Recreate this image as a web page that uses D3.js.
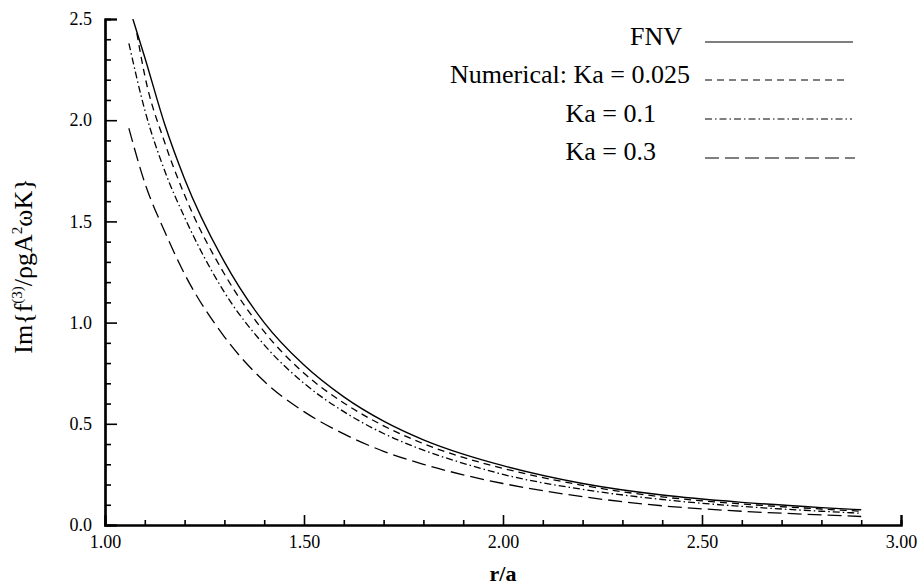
<!DOCTYPE html>
<html>
<head>
<meta charset="utf-8">
<script src="https://cdn.jsdelivr.net/npm/d3@7"></script>
<style>
  html, body { margin: 0; padding: 0; background: #fff; }
  svg text { font-family: "Liberation Serif", "Times New Roman", serif; fill: #000; }
</style>
</head>
<body>
<div id="chart"></div>
<script>
// --- data ---
const fnvR   = [1.07, 1.1, 1.15, 1.2, 1.3, 1.4, 1.5, 1.6, 1.7, 1.8, 1.9, 2.0, 2.2, 2.4, 2.6, 2.8, 2.9];
const fnvV   = [2.50, 2.31, 1.98, 1.71, 1.30, 1.00, 0.79, 0.633, 0.513, 0.421, 0.350, 0.293, 0.205, 0.148, 0.112, 0.086, 0.075];

const ka025R = [1.08, 1.1, 1.15, 1.2, 1.3, 1.4, 1.5, 1.6, 1.7, 1.8, 1.9, 2.0, 2.2, 2.4, 2.6, 2.8, 2.9];
const ka025V = [2.43, 2.22, 1.89, 1.63, 1.24, 0.955, 0.75, 0.603, 0.49, 0.402, 0.334, 0.28, 0.196, 0.139, 0.104, 0.079, 0.068];

const ka01R  = [1.06, 1.1, 1.15, 1.2, 1.3, 1.4, 1.5, 1.6, 1.7, 1.8, 1.9, 2.0, 2.2, 2.4, 2.6, 2.8, 2.9];
const ka01V  = [2.38, 2.05, 1.75, 1.52, 1.15, 0.89, 0.70, 0.56, 0.452, 0.37, 0.305, 0.25, 0.176, 0.126, 0.092, 0.068, 0.058];

const ka03R  = [1.06, 1.1, 1.15, 1.2, 1.3, 1.4, 1.5, 1.6, 1.7, 1.8, 1.9, 2.0, 2.2, 2.4, 2.6, 2.8, 2.9];
const ka03V  = [1.96, 1.69, 1.45, 1.24, 0.93, 0.71, 0.56, 0.45, 0.364, 0.30, 0.248, 0.205, 0.14, 0.095, 0.068, 0.05, 0.042];

const xMajor = [1.0, 1.5, 2.0, 2.5, 3.0];
const yMajor = [0.0, 0.5, 1.0, 1.5, 2.0, 2.5];

const legendLabels = ["FNV", "Numerical: Ka = 0.025", "Ka = 0.1", "Ka = 0.3"];

// --- setup ---
const width = 924, height = 587;
const svg = d3.select("#chart").append("svg")
  .attr("width", width)
  .attr("height", height);

svg.append("rect").attr("width", width).attr("height", height).attr("fill", "#fff");

const x = d3.scaleLinear().domain([1, 3]).range([105, 901]);
const y = d3.scaleLinear().domain([0, 2.5]).range([525, 19]);

const xMinor = d3.range(10, 31).map(d => d / 10).filter(d => !xMajor.some(m => Math.abs(m - d) < 1e-9));
const yMinor = d3.range(0, 26).map(d => d / 10).filter(d => !yMajor.some(m => Math.abs(m - d) < 1e-9));

// clip to plot area
svg.append("defs").append("clipPath").attr("id", "plot-clip")
  .append("rect")
  .attr("x", x(1)).attr("y", y(2.5))
  .attr("width", x(3) - x(1)).attr("height", y(0) - y(2.5));

// --- curves ---
const series = [
  { r: fnvR,   v: fnvV,   dash: null,          width: 1.4 },
  { r: ka025R, v: ka025V, dash: "7,5",         width: 1.3 },
  { r: ka01R,  v: ka01V,  dash: "7,3,1.5,3",   width: 1.3 },
  { r: ka03R,  v: ka03V,  dash: "14,6",        width: 1.3 }
];

const line = d3.line()
  .x(d => x(d[0]))
  .y(d => y(d[1]))
  .curve(d3.curveMonotoneX);

const curves = svg.append("g").attr("clip-path", "url(#plot-clip)");
series.forEach(s => {
  curves.append("path")
    .datum(d3.zip(s.r, s.v))
    .attr("fill", "none")
    .attr("stroke", "#000")
    .attr("stroke-width", s.width)
    .attr("stroke-dasharray", s.dash)
    .attr("d", line);
});

// --- axes (ticks point inward) ---
function styleAxis(g) {
  g.select(".domain").attr("stroke", "#000").attr("stroke-width", 2.2);
  g.selectAll(".tick line").attr("stroke", "#000").attr("stroke-width", 1.6);
  g.selectAll("text").style("font-size", "18px").attr("fill", "#000")
    .style("font-family", '"Liberation Serif", "Times New Roman", serif');
}

// y minor
svg.append("g")
  .attr("transform", `translate(${x(1)},0)`)
  .call(d3.axisLeft(y).tickValues(yMinor).tickSize(-6).tickFormat(""))
  .call(styleAxis);
// y major
svg.append("g")
  .attr("transform", `translate(${x(1)},0)`)
  .call(d3.axisLeft(y).tickValues(yMajor).tickSize(-12).tickPadding(13).tickFormat(d3.format(".1f")))
  .call(styleAxis);

// x minor
svg.append("g")
  .attr("transform", `translate(0,${y(0)})`)
  .call(d3.axisBottom(x).tickValues(xMinor).tickSize(-5).tickFormat(""))
  .call(styleAxis);
// x major
svg.append("g")
  .attr("transform", `translate(0,${y(0)})`)
  .call(d3.axisBottom(x).tickValues(xMajor).tickSize(-10).tickPadding(10).tickFormat(d3.format(".2f")))
  .call(styleAxis);

// --- axis titles ---
svg.append("text")
  .attr("x", 503).attr("y", 581)
  .attr("text-anchor", "middle")
  .style("font-size", "22px")
  .style("font-weight", "bold")
  .text("r/a");

const yTitle = svg.append("text")
  .attr("transform", "translate(32,266) rotate(-90)")
  .attr("text-anchor", "middle")
  .style("font-size", "26px");
yTitle.append("tspan").text("Im{f");
yTitle.append("tspan").attr("dy", -10).style("font-size", "15px").text("(3)");
yTitle.append("tspan").attr("dy", 10).text("/ρgA");
yTitle.append("tspan").attr("dy", -10).style("font-size", "15px").text("2");
yTitle.append("tspan").attr("dy", 10).text("ωK}");

// --- legend ---
const legendRows = [
  { label: legendLabels[0], tx: 682, ty: 45,  ly: 42,  x2: 853, s: series[0] },
  { label: legendLabels[1], tx: 690, ty: 83,  ly: 80,  x2: 848, s: series[1] },
  { label: legendLabels[2], tx: 656, ty: 122, ly: 119, x2: 852, s: series[2] },
  { label: legendLabels[3], tx: 656, ty: 160, ly: 158, x2: 855, s: series[3] }
];
const legend = svg.append("g");
legendRows.forEach(r => {
  legend.append("text")
    .attr("x", r.tx).attr("y", r.ty)
    .attr("text-anchor", "end")
    .style("font-size", "26px")
    .text(r.label);
  legend.append("line")
    .attr("x1", 705).attr("x2", r.x2)
    .attr("y1", r.ly).attr("y2", r.ly)
    .attr("stroke", "#000")
    .attr("stroke-width", 1.2)
    .attr("stroke-dasharray", r.s.dash);
});
</script>
</body>
</html>
